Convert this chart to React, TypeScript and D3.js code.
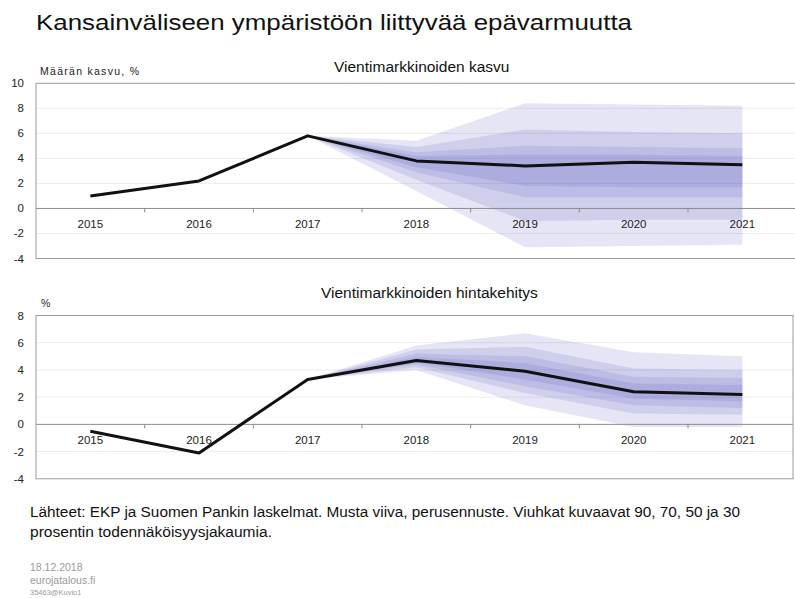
import React from 'react';
import * as d3 from 'd3';

const years = ['2015', '2016', '2017', '2018', '2019', '2020', '2021'];
const volumeGrowth = [1.0, 2.2, 5.8, 3.8, 3.4, 3.7, 3.5];
const priceGrowth = [-0.5, -2.1, 3.3, 4.7, 3.9, 2.4, 2.2];

const fanYears = ['2017', '2018', '2019', '2020', '2021'];
const fanLevels = ['90', '70', '50', '30'];

// upper / lower bounds per probability level (90, 70, 50, 30)
const volumeFanUpper = [
  [5.8, 5.4, 8.4, 8.3, 8.2],
  [5.8, 4.9, 6.3, 6.1, 6.0],
  [5.8, 4.5, 5.0, 4.9, 4.8],
  [5.8, 4.2, 4.3, 4.3, 4.2],
];
const volumeFanLower = [
  [5.8, 1.4, -3.1, -3.0, -2.9],
  [5.8, 2.3, -1.0, -0.9, -0.9],
  [5.8, 2.9, 0.9, 0.9, 0.9],
  [5.8, 3.3, 1.8, 1.7, 1.7],
];
const priceFanUpper = [
  [3.3, 5.8, 6.7, 5.3, 5.0],
  [3.3, 5.5, 5.7, 4.1, 4.0],
  [3.3, 5.2, 5.0, 3.5, 3.4],
  [3.3, 4.95, 4.5, 3.0, 2.9],
];
const priceFanLower = [
  [3.3, 4.0, 1.4, -0.2, -0.2],
  [3.3, 4.2, 2.3, 0.8, 0.7],
  [3.3, 4.4, 2.8, 1.4, 1.2],
  [3.3, 4.55, 3.3, 1.9, 1.7],
];

const volumeTicks = [-4, -2, 0, 2, 4, 6, 8, 10];
const priceTicks = [-4, -2, 0, 2, 4, 6, 8];

const FONT = "'Liberation Sans', Arial, sans-serif";

type PanelProps = {
  title: string;
  titleX: number;
  titleY: number;
  unit: string;
  unitX: number;
  unitY: number;
  unitLength?: number;
  values: number[];
  fanUpper: number[][];
  fanLower: number[][];
  ticks: number[];
  top: number;
  bottom: number;
  frameRight: number;
  labelOffset: number;
};

function Panel(p: PanelProps) {
  const left = 36;
  const x = d3.scaleBand<string>().domain(years).range([left, left + 108.67 * years.length]);
  const cx = (yr: string) => (x(yr) as number) + x.bandwidth() / 2;
  const y = d3.scaleLinear().domain([p.ticks[0], p.ticks[p.ticks.length - 1]]).range([p.bottom, p.top]);

  const line = d3
    .line<number>()
    .x((_, i) => cx(years[i]))
    .y((d) => y(d));

  const bands = fanLevels.map((lvl, k) => {
    const up = p.fanUpper[k];
    const lo = p.fanLower[k];
    const a = d3
      .area<number>()
      .x((_, i) => cx(fanYears[i]))
      .y1((_, i) => y(up[i]))
      .y0((_, i) => y(lo[i]));
    return <path key={lvl} d={a(up) || ''} fill="#5a5cc0" fillOpacity={0.155} />;
  });

  const zeroY = y(0);
  const boundaries = years.slice(1).map((yr) => x(yr) as number);

  return (
    <g>
      {p.ticks.slice(1, -1).map((t) =>
        t === 0 ? null : (
          <line key={t} x1={left} x2={p.frameRight} y1={y(t)} y2={y(t)} stroke="#ececec" strokeWidth={1} />
        )
      )}
      {bands}
      <line x1={left} x2={p.frameRight} y1={zeroY} y2={zeroY} stroke="#8c8c8c" strokeWidth={1} />
      {boundaries.map((bx, i) => (
        <line key={i} x1={bx} x2={bx} y1={zeroY} y2={zeroY + 4} stroke="#8c8c8c" strokeWidth={1} />
      ))}
      <rect
        x={left}
        y={p.top}
        width={p.frameRight - left}
        height={p.bottom - p.top}
        fill="none"
        stroke="#9a9a9a"
        strokeWidth={1}
      />
      <path d={line(p.values) || ''} fill="none" stroke="#111" strokeWidth={3} strokeLinejoin="round" />
      {p.ticks.map((t) => (
        <text key={t} x={24} y={y(t) + 4} textAnchor="end" fontSize={11.5} fill="#222" fontFamily={FONT}>
          {t}
        </text>
      ))}
      {years.map((yr) => (
        <text key={yr} x={cx(yr)} y={zeroY + p.labelOffset} textAnchor="middle" fontSize={11.5} fill="#222" fontFamily={FONT}>
          {yr}
        </text>
      ))}
      <text
        x={p.unitX}
        y={p.unitY}
        fontSize={10.5}
        fill="#222"
        fontFamily={FONT}
        textLength={p.unitLength}
        lengthAdjust="spacing"
      >
        {p.unit}
      </text>
      <text x={p.titleX} y={p.titleY} fontSize={15.5} fill="#111" fontFamily={FONT}>
        {p.title}
      </text>
    </g>
  );
}

export default function App() {
  return (
    <svg
      width={795}
      height={598}
      style={{ position: 'absolute', left: 0, top: 0, background: '#fff' }}
      xmlns="http://www.w3.org/2000/svg"
    >
      <rect x={0} y={0} width={795} height={598} fill="#fff" />
      <text x={36} y={30} fontSize={21.5} fill="#111" fontFamily={FONT} textLength={596} lengthAdjust="spacingAndGlyphs">
        Kansainväliseen ympäristöön liittyvää epävarmuutta
      </text>
      <Panel
        title="Vientimarkkinoiden kasvu"
        titleX={334}
        titleY={72}
        unit="Määrän kasvu, %"
        unitX={40}
        unitY={75}
        unitLength={99}
        values={volumeGrowth}
        fanUpper={volumeFanUpper}
        fanLower={volumeFanLower}
        ticks={volumeTicks}
        top={83.3}
        bottom={258.5}
        frameRight={800}
        labelOffset={20}
      />
      <Panel
        title="Vientimarkkinoiden hintakehitys"
        titleX={321}
        titleY={298}
        unit="%"
        unitX={41}
        unitY={307}
        values={priceGrowth}
        fanUpper={priceFanUpper}
        fanLower={priceFanLower}
        ticks={priceTicks}
        top={315.5}
        bottom={478.8}
        frameRight={793}
        labelOffset={20}
      />
      <text x={30} y={517} fontSize={14} fill="#111" fontFamily={FONT} textLength={710} lengthAdjust="spacingAndGlyphs">
        Lähteet: EKP ja Suomen Pankin laskelmat. Musta viiva, perusennuste. Viuhkat kuvaavat 90, 70, 50 ja 30
      </text>
      <text x={30} y={537} fontSize={14} fill="#111" fontFamily={FONT} textLength={242} lengthAdjust="spacingAndGlyphs">
        prosentin todennäköisyysjakaumia.
      </text>
      <text x={30} y={571} fontSize={10.5} fill="#999" fontFamily={FONT}>
        18.12.2018
      </text>
      <text x={30} y={584} fontSize={10.5} fill="#999" fontFamily={FONT}>
        eurojatalous.fi
      </text>
      <text x={30} y={595} fontSize={7.5} fill="#999" fontFamily={FONT}>
        35463@Kuvio1
      </text>
    </svg>
  );
}
